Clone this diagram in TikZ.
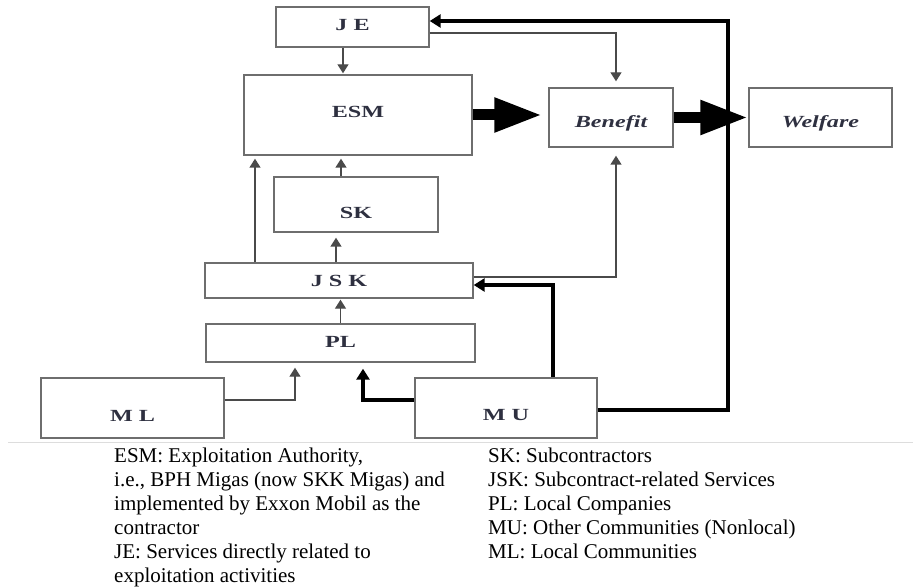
\documentclass[tikz,border=0pt]{standalone}
\usepackage{fontspec}
\setmainfont{Liberation Serif}
\newfontfamily\boxfont[FakeStretch=1.42]{Liberation Serif}
\usetikzlibrary{arrows.meta}
\definecolor{boxgray}{HTML}{6E6E6E}
\definecolor{arrgray}{HTML}{4A4A4A}
\definecolor{txtcol}{HTML}{2E3040}
\definecolor{sepgray}{HTML}{DDDDDD}
\begin{document}
\begin{tikzpicture}[x=1pt,y=-1pt,
  box/.style={draw=boxgray,line width=1.4pt,inner sep=0pt,text=txtcol,
    font=\boxfont\bfseries\fontsize{17}{17}\selectfont},
  th/.style={text height=#1,text depth=0pt},
  thinarr/.style={draw=arrgray,line width=1.4pt,-{Triangle[length=9pt,width=11pt]}},
  thickarr/.style={draw=black,line width=4.5pt,-{Triangle[length=11pt,width=13pt]}},
  bigarr/.style={draw=black,line width=11pt,-{Triangle[length=48pt,width=32pt]}},
  legend/.style={inner sep=0pt,align=left,anchor=base west,
    font=\fontsize{21}{24}\selectfont}]
\useasboundingbox (0,0) rectangle (913,588);
% boxes
\node[box,th=6.6pt,minimum width=153pt,minimum height=40pt] (JE) at (352.5,27) {J E};
\node[box,th=4.2pt,minimum width=228pt,minimum height=80pt] (ESM) at (358,115) {ESM};
\node[box,th=20.2pt,minimum width=124pt,minimum height=59pt] (Benefit) at (611,117.5) {\itshape Benefit};
\node[box,th=19.2pt,minimum width=143pt,minimum height=59pt] (Welfare) at (820.5,117.5) {\itshape Welfare};
\node[box,th=27.2pt,minimum width=164pt,minimum height=55pt] (SK) at (356,204.5) {SK};
\node[box,th=11.2pt,minimum width=268pt,minimum height=35pt] (JSK) at (339,280.5) {J S K};
\node[box,th=8.6pt,minimum width=269pt,minimum height=38pt] (PL) at (340.5,343) {PL};
\node[box,th=26.2pt,minimum width=183pt,minimum height=60pt] (ML) at (132.5,408) {M L};
\node[box,th=24.6pt,minimum width=182pt,minimum height=60pt] (MU) at (506,408) {M U};
\coordinate (rc) at (728,21);
% thin connectors
\draw[thinarr,shorten >=1pt] ([xshift=-9.5pt]JE.south) -- ([xshift=-9.5pt]JE.south |- ESM.north);
\draw[thinarr,shorten >=3pt] ([xshift=-15pt]SK.north) -- ([xshift=-15pt]SK.north |- ESM.south);
\draw[thinarr,shorten >=3pt] ([xshift=-84pt]JSK.north) -- ([xshift=-84pt]JSK.north |- ESM.south);
\draw[thinarr,shorten >=5pt] ([xshift=-3pt]JSK.north) -- ([xshift=-3pt]JSK.north |- SK.south);
\draw[thinarr,shorten >=1pt] (PL.north) -- (PL.north |- JSK.south);
\draw[thinarr,shorten >=5pt] ([yshift=8pt]ML.east) -| ([xshift=-45.5pt]PL.south);
\draw[thinarr,shorten >=6pt] ([yshift=-6pt]JE.east) -| ([xshift=5pt]Benefit.north);
\draw[thinarr,shorten >=8pt] ([yshift=3.5pt]JSK.east) -| ([xshift=5pt]Benefit.south);
% thick connectors
\draw[thickarr,shorten >=6pt] ([yshift=8pt]MU.west) -| ([xshift=22.5pt]PL.south);
\draw[thickarr] ([xshift=47pt]MU.north) |- ([yshift=-4.5pt]JSK.east);
\draw[thickarr] ([yshift=-2pt]MU.east) -| (rc) -- ([yshift=6pt]JE.east);
\draw[bigarr,shorten >=6pt] (ESM.east) -- (ESM.east -| Benefit.west);
\draw[bigarr] (Benefit.east) -- (Welfare.west);
% separator
\draw[sepgray,line width=1pt] (8,442) -- (913,442);
% legend (anchor = baseline of last line)
\node[legend] (legL) at (114,582) {ESM: Exploitation Authority,\\
i.e., BPH Migas (now SKK Migas) and\\
implemented by Exxon Mobil as the\\
contractor\\
JE: Services directly related to\\
exploitation activities};
\node[legend] (legR) at (488,558) {SK: Subcontractors\\
JSK: Subcontract-related Services\\
PL: Local Companies\\
MU: Other Communities (Nonlocal)\\
ML: Local Communities};
\end{tikzpicture}
\end{document}
